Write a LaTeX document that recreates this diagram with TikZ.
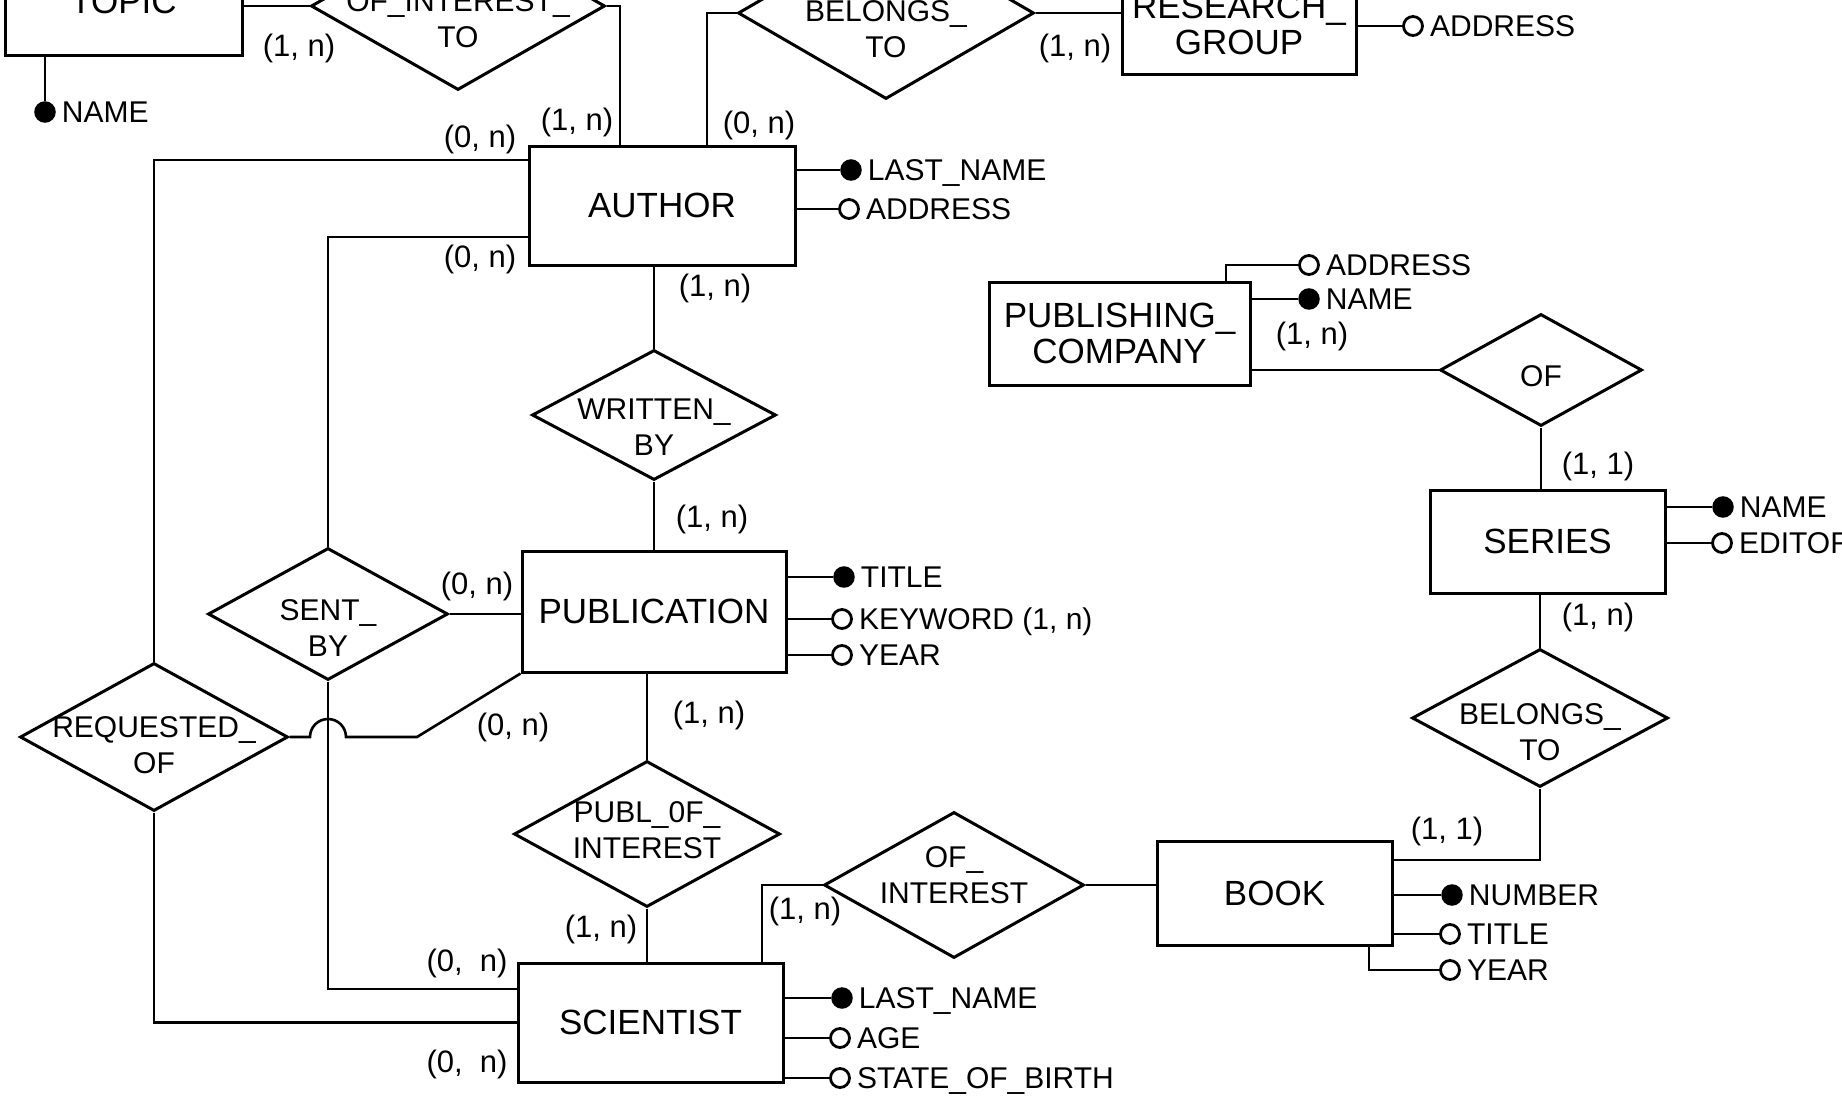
\documentclass[tikz,border=0pt]{standalone}
\usepackage{fontspec}
\setmainfont{Liberation Sans}
\usetikzlibrary{shapes.geometric,calc}
% #1: raise of the first baseline (up), #2: lines
\newcommand{\reltxt}[2]{\makebox[0pt][c]{\raisebox{#1}[0pt][0pt]{\begin{tabular}[t]{@{}c@{}}#2\end{tabular}}}}
\begin{document}
\begin{tikzpicture}[x=1pt,y=-1pt,
  entity/.style={draw, line width=3pt, rectangle, inner sep=0pt, align=center, font=\fontsize{35}{36}\selectfont},
  rel/.style={draw, line width=3pt, diamond, inner sep=0pt, font=\fontsize{30}{36}\selectfont},
  card/.style={inner sep=0pt, font=\fontsize{31}{33}\selectfont},
  keyattr/.style={circle, fill=black, draw, line width=1.5pt, minimum size=20pt, inner sep=0pt},
  attr/.style={circle, fill=white, draw, line width=2.8pt, minimum size=19pt, inner sep=0pt},
  atext/.style={anchor=west, inner sep=0pt, xshift=6pt, text height=21.5pt, text depth=0pt, font=\fontsize{30}{32}\selectfont},
  conn/.style={line width=2.6pt}]
\useasboundingbox (0,0) rectangle (1842,1100);
\fill[white] (0,0) rectangle (1842,1100);
\clip (0,0) rectangle (1842,1100);

% entities
\node[entity, minimum width=237pt, minimum height=108pt] (topic) at (123.5,1) {TOPIC};
\node[entity, minimum width=234pt, minimum height=100pt] (rg) at (1239,24) {RESEARCH\_\\GROUP};
\node[entity, minimum width=266pt, minimum height=119pt] (author) at (662,205.5) {AUTHOR};
\node[entity, minimum width=261pt, minimum height=103pt] (pc) at (1119.5,333.5) {PUBLISHING\_\\COMPANY};
\node[entity, minimum width=264pt, minimum height=121pt] (publication) at (654,611.5) {PUBLICATION};
\node[entity, minimum width=235pt, minimum height=103pt] (series) at (1547.5,541.5) {SERIES};
\node[entity, minimum width=235pt, minimum height=104pt] (book) at (1274.5,893) {BOOK};
\node[entity, minimum width=265pt, minimum height=119pt] (scientist) at (650.5,1022.5) {SCIENTIST};

% relationships
\node[rel, minimum width=294pt, minimum height=168pt] (ofint) at (458,6) {\reltxt{-5.75pt}{OF\_INTEREST\_\\TO}};
\node[rel, minimum width=296pt, minimum height=172pt] (bel1) at (886,13) {\reltxt{-8.75pt}{BELONGS\_\\TO}};
\node[rel, minimum width=244pt, minimum height=130pt] (written) at (654,415) {\reltxt{-4.75pt}{WRITTEN\_\\BY}};
\node[rel, minimum width=240pt, minimum height=132pt] (sentby) at (328,614) {\reltxt{-6.25pt}{SENT\_\\BY}};
\node[rel, minimum width=268pt, minimum height=148pt] (reqof) at (154,737) {\reltxt{-0.75pt}{REQUESTED\_\\OF}};
\node[rel, minimum width=266pt, minimum height=146pt] (publof) at (647,834) {\reltxt{11.25pt}{PUBL\_0F\_\\INTEREST}};
\node[rel, minimum width=260pt, minimum height=146pt] (ofinterest) at (954,885) {\reltxt{17.25pt}{OF\_\\INTEREST}};
\node[rel, minimum width=202pt, minimum height=112pt] (of) at (1541,370) {\reltxt{-16.75pt}{OF}};
\node[rel, minimum width=256pt, minimum height=138pt] (bel2) at (1540,718) {\reltxt{-6.75pt}{BELONGS\_\\TO}};

% connectors
\draw[conn] (topic.east |- ofint.west) -- (ofint.west);
\draw[conn] (ofint.east) -| ([xshift=-42pt]author.north);
\draw[conn] (bel1.west) -| ([xshift=45pt]author.north);
\draw[conn] (bel1.east) -- (rg.west |- bel1.east);
\draw[conn] ([yshift=45.5pt]author.west) -| (reqof.north);
\draw[conn] ([yshift=-31.5pt]author.west) -| (sentby.north);
\draw[conn] (written.north |- author.south) -- (written.north);
\draw[conn] (written.south) -- (written.south |- publication.north);
\draw[conn] (sentby.east) -- (publication.west |- sentby.east);
\draw[conn] (sentby.south) |- ([yshift=33.5pt]scientist.west);
\draw[conn] (reqof.south) |- (scientist.west);
\draw[conn] (reqof.east) -- ($(sentby.south |- reqof.east)+(-18,0)$)
  arc[start angle=180, end angle=0, radius=18pt] -- ++(71,0) -- (publication.south west);
\draw[conn] (publof.north |- publication.south) -- (publof.north);
\draw[conn] (publof.south) -- (publof.south |- scientist.north);
\draw[conn] (ofinterest.west) -| ([xshift=111.5pt]scientist.north);
\draw[conn] (ofinterest.east) -- (book.west |- ofinterest.east);
\draw[conn] (bel2.south) |- ([yshift=33pt]book.east);
\draw[conn] (of.west) -- (pc.east |- of.west);
\draw[conn] (of.south) -- (of.south |- series.north);
\draw[conn] (bel2.north |- series.south) -- (bel2.north);

% cardinalities
\node[card] (k1) at (299,48) {(1, n)};
\node[card] (k2) at (577,122) {(1, n)};
\node[card] (k3) at (480,139) {(0, n)};
\node[card] (k4) at (480,259) {(0, n)};
\node[card] (k5) at (759,125) {(0, n)};
\node[card] (k6) at (1075,48) {(1, n)};
\node[card] (k7) at (715,288) {(1, n)};
\node[card] (k8) at (712,519) {(1, n)};
\node[card] (k9) at (477,586) {(0, n)};
\node[card] (k10) at (513,727) {(0, n)};
\node[card] (k11) at (709,715) {(1, n)};
\node[card] (k12) at (601,929) {(1, n)};
\node[card] (k13) at (467,963) {(0, \ n)};
\node[card] (k14) at (467,1064) {(0, \ n)};
\node[card] (k15) at (805,911) {(1, n)};
\node[card] (k16) at (1312,336) {(1, n)};
\node[card] (k17) at (1598,466) {(1, 1)};
\node[card] (k18) at (1598,617) {(1, n)};
\node[card] (k19) at (1447,831) {(1, 1)};

% attributes
\node[keyattr] (tname) at (45,112) {};
\node[atext] (tname-t) at (tname.east) {NAME};
\draw[conn] ([xshift=-78.5pt]topic.south) -- (tname);

\node[attr] (rgaddr) at (1413,26) {};
\node[atext] (rgaddr-t) at (rgaddr.east) {ADDRESS};
\draw[conn] (rg.east |- rgaddr) -- (rgaddr);

\node[keyattr] (alast) at (851,170) {};
\node[atext] (alast-t) at (alast.east) {LAST\_NAME};
\draw[conn] (author.east |- alast) -- (alast);
\node[attr] (aaddr) at (849,209) {};
\node[atext] (aaddr-t) at (aaddr.east) {ADDRESS};
\draw[conn] (author.east |- aaddr) -- (aaddr);

\node[attr] (pcaddr) at (1309,265) {};
\node[atext] (pcaddr-t) at (pcaddr.east) {ADDRESS};
\draw[conn] ([xshift=106.5pt]pc.north) |- (pcaddr);
\node[keyattr] (pcname) at (1309,299) {};
\node[atext] (pcname-t) at (pcname.east) {NAME};
\draw[conn] (pc.east |- pcname) -- (pcname);

\node[keyattr] (sname) at (1723,507) {};
\node[atext] (sname-t) at (sname.east) {NAME};
\draw[conn] (series.east |- sname) -- (sname);
\node[attr] (sed) at (1722,543) {};
\node[atext] (sed-t) at (sed.east) {EDITOR};
\draw[conn] (series.east |- sed) -- (sed);

\node[keyattr] (ptitle) at (844,577) {};
\node[atext] (ptitle-t) at (ptitle.east) {TITLE};
\draw[conn] (publication.east |- ptitle) -- (ptitle);
\node[attr] (pkey) at (842,619) {};
\node[atext] (pkey-t) at (pkey.east) {KEYWORD (1, n)};
\draw[conn] (publication.east |- pkey) -- (pkey);
\node[attr] (pyear) at (842,655) {};
\node[atext] (pyear-t) at (pyear.east) {YEAR};
\draw[conn] (publication.east |- pyear) -- (pyear);

\node[keyattr] (bnum) at (1452,895) {};
\node[atext] (bnum-t) at (bnum.east) {NUMBER};
\draw[conn] (book.east |- bnum) -- (bnum);
\node[attr] (btitle) at (1450,934) {};
\node[atext] (btitle-t) at (btitle.east) {TITLE};
\draw[conn] (book.east |- btitle) -- (btitle);
\node[attr] (byear) at (1450,970) {};
\node[atext] (byear-t) at (byear.east) {YEAR};
\draw[conn] ([xshift=94.5pt]book.south) |- (byear);

\node[keyattr] (slast) at (842,998) {};
\node[atext] (slast-t) at (slast.east) {LAST\_NAME};
\draw[conn] (scientist.east |- slast) -- (slast);
\node[attr] (sage) at (840,1038) {};
\node[atext] (sage-t) at (sage.east) {AGE};
\draw[conn] (scientist.east |- sage) -- (sage);
\node[attr] (sstate) at (840,1078) {};
\node[atext] (sstate-t) at (sstate.east) {STATE\_OF\_BIRTH};
\draw[conn] (scientist.east |- sstate) -- (sstate);
\end{tikzpicture}
\end{document}
